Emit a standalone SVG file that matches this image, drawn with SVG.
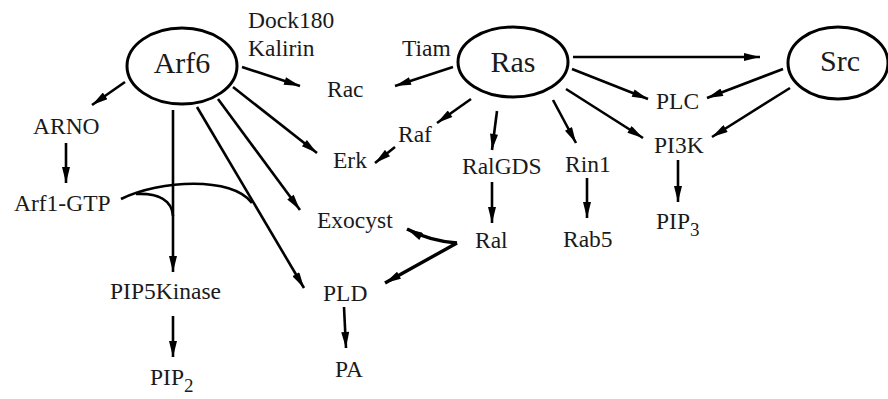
<svg xmlns="http://www.w3.org/2000/svg" width="888" height="399" viewBox="0 0 888 399">
<defs>
<style>
.t{font-size:23.5px;fill:#1a1a1a}
.b{font-size:30px;fill:#1a1a1a;text-anchor:middle}
.e{fill:#fff;stroke:#000;stroke-width:3}
.c{fill:none;stroke:#000;stroke-width:2.6;stroke-linecap:butt}
.h{fill:none;stroke:#000;stroke-width:3.4}
</style>
<marker id="ah" viewBox="0 0 20 10" refX="20" refY="5" markerWidth="17" markerHeight="8" markerUnits="userSpaceOnUse" orient="auto">
<path d="M0,0 L20,5 L0,10 Z" fill="#000"/>
</marker>
<marker id="al" viewBox="0 0 20 10" refX="20" refY="5" markerWidth="22" markerHeight="8" markerUnits="userSpaceOnUse" orient="auto">
<path d="M0,0 L20,5 L0,10 Z" fill="#000"/>
</marker>
</defs>
<rect width="888" height="399" fill="#fff"/>
<g id="connectors">
<line class="c" x1="125" y1="82" x2="92" y2="105" marker-end="url(#ah)"/>
<line class="c" x1="66" y1="143" x2="66" y2="183" marker-end="url(#ah)"/>
<line class="c" x1="242" y1="67" x2="300" y2="86" marker-end="url(#ah)"/>
<line class="c" x1="233" y1="87" x2="317" y2="153" marker-end="url(#al)"/>
<line class="c" x1="218" y1="99" x2="300" y2="210" marker-end="url(#al)"/>
<line class="c" x1="197" y1="107" x2="304" y2="288" marker-end="url(#al)"/>
<line class="c" x1="173" y1="110" x2="173" y2="272" marker-end="url(#al)"/>
<path class="c" d="M121,199 C160,180 232,176 252,203"/>
<path class="c" d="M136,194 C158,193 172,200 173,216"/>
<line class="c" x1="173" y1="316" x2="173" y2="357" marker-end="url(#ah)"/>
<line class="c" x1="453" y1="67" x2="395" y2="86" marker-end="url(#ah)"/>
<line class="c" x1="471" y1="99" x2="437" y2="123" marker-end="url(#ah)"/>
<line class="c" x1="395" y1="147" x2="375" y2="163" marker-end="url(#ah)"/>
<line class="c" x1="497" y1="111" x2="492" y2="150" marker-end="url(#ah)"/>
<line class="c" x1="553" y1="100" x2="576" y2="143" marker-end="url(#ah)"/>
<line class="c" x1="572" y1="69" x2="648" y2="99" marker-end="url(#ah)"/>
<line class="c" x1="566" y1="89" x2="643" y2="138" marker-end="url(#ah)"/>
<line class="c" x1="573" y1="57" x2="760" y2="57" marker-end="url(#al)"/>
<line class="c" x1="783" y1="69" x2="707" y2="98" marker-end="url(#ah)"/>
<line class="c" x1="790" y1="88" x2="712" y2="137" marker-end="url(#ah)"/>
<line class="c" x1="678" y1="160" x2="678" y2="202" marker-end="url(#ah)"/>
<line class="c" x1="492" y1="182" x2="492" y2="223" marker-end="url(#ah)"/>
<line class="c" x1="587" y1="178" x2="587" y2="218" marker-end="url(#ah)"/>
<path class="h" d="M457,243 Q430,241 407,229" marker-end="url(#ah)"/>
<line class="h" x1="457" y1="243" x2="385" y2="283" marker-end="url(#al)"/>
<line class="c" x1="344" y1="307" x2="346" y2="348" marker-end="url(#ah)"/>
</g>
<g font-family="Liberation Serif, serif">
<g id="Arf6"><ellipse class="e" cx="182" cy="66" rx="55" ry="38"/><text class="b" x="182" y="73">Arf6</text></g>
<g id="Ras"><ellipse class="e" cx="513" cy="62" rx="55" ry="35"/><text class="b" x="513" y="72">Ras</text></g>
<g id="Src"><ellipse class="e" cx="838" cy="63" rx="50" ry="36"/><text class="b" x="840" y="71">Src</text></g>
<g id="Dock180"><text class="t" x="248" y="28">Dock180</text><text class="t" x="248" y="56">Kalirin</text></g>
<g id="Rac"><text class="t" x="327" y="97">Rac</text></g>
<g id="Tiam"><text class="t" x="402" y="56">Tiam</text></g>
<g id="Raf"><text class="t" x="398" y="142">Raf</text></g>
<g id="Erk"><text class="t" x="333" y="168">Erk</text></g>
<g id="RalGDS"><text class="t" x="462" y="174">RalGDS</text></g>
<g id="Rin1"><text class="t" x="565" y="172">Rin1</text></g>
<g id="PLC"><text class="t" x="656" y="109">PLC</text></g>
<g id="PI3K"><text class="t" x="654" y="153">PI3K</text></g>
<g id="PIP3"><text class="t" x="656" y="229">PIP<tspan font-size="19" dy="7">3</tspan></text></g>
<g id="Rab5"><text class="t" x="563" y="247">Rab5</text></g>
<g id="Ral"><text class="t" x="475" y="248">Ral</text></g>
<g id="Exocyst"><text class="t" x="317" y="228">Exocyst</text></g>
<g id="PLD"><text class="t" x="323" y="301">PLD</text></g>
<g id="PA"><text class="t" x="335" y="377">PA</text></g>
<g id="ARNO"><text class="t" x="33" y="134">ARNO</text></g>
<g id="Arf1-GTP"><text class="t" x="14" y="211">Arf1-GTP</text></g>
<g id="PIP5Kinase"><text class="t" x="110" y="299">PIP5Kinase</text></g>
<g id="PIP2"><text class="t" x="150" y="385">PIP<tspan font-size="19" dy="7">2</tspan></text></g>
</g>
</svg>
